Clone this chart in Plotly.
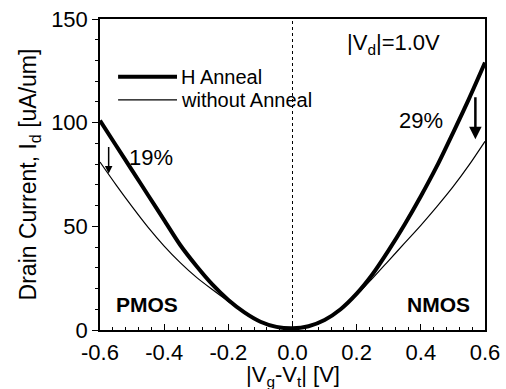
import plotly.graph_objects as go

# Gate overdrive |Vg - Vt| (negative side = PMOS, positive = NMOS)
vg = [-0.60, -0.55, -0.50, -0.45, -0.40, -0.35, -0.30, -0.25, -0.20, -0.15, -0.10, -0.05, 0.00,
      0.05, 0.10, 0.15, 0.20, 0.25, 0.30, 0.35, 0.40, 0.45, 0.50, 0.55, 0.60]
id_h_anneal = [101, 89, 77, 65, 53, 41, 31, 22, 14.5, 8.5, 4, 1.5, 0.8,
               1.8, 4.8, 10, 17.5, 27, 38.5, 51, 64.5, 79, 95, 111.5, 129]
id_no_anneal = [81, 70, 59.5, 49.5, 40.5, 32.5, 25.5, 19.5, 13.8, 8.3, 4, 1.5, 0.8,
                1.8, 4.8, 10, 17, 25, 33.5, 42, 50.5, 59.5, 69, 79.5, 91]

x_ticks = [-0.6, -0.4, -0.2, 0.0, 0.2, 0.4, 0.6]
x_ticklabels = ["-0.6", "-0.4", "-0.2", "0.0", "0.2", "0.4", "0.6"]
y_ticks = [0, 50, 100, 150]

FONT = "Liberation Sans, Arial, sans-serif"

fig = go.Figure()
fig.add_trace(go.Scatter(x=vg, y=id_h_anneal, mode="lines", name="H Anneal",
                         line=dict(color="black", width=4, shape="spline", smoothing=0.8)))
fig.add_trace(go.Scatter(x=vg, y=id_no_anneal, mode="lines", name="without Anneal",
                         line=dict(color="black", width=1.2, shape="spline", smoothing=0.8)))

# dotted vertical line at 0
fig.add_shape(type="line", xref="x", yref="paper", x0=0, x1=0, y0=0, y1=1,
              line=dict(color="black", width=1, dash="dot"))

# manual legend
leg = [("H Anneal", 4, 0.814), ("without Anneal", 1.2, 0.740)]
for name, w, yy in leg:
    fig.add_shape(type="line", xref="paper", yref="paper", x0=0.047, x1=0.2, y0=yy, y1=yy,
                  line=dict(color="black", width=w))
    fig.add_annotation(xref="paper", yref="paper", x=0.205, y=yy, text=name, showarrow=False,
                       xanchor="left", yanchor="middle", font=dict(size=20, color="black", family=FONT))

# arrows
fig.add_annotation(x=-0.573, y=75.5, ax=-0.573, ay=89, xref="x", yref="y", axref="x", ayref="y",
                   showarrow=True, arrowhead=2, arrowsize=1, arrowwidth=1.5, arrowcolor="black", text="")
fig.add_annotation(x=0.570, y=92, ax=0.570, ay=113, xref="x", yref="y", axref="x", ayref="y",
                   showarrow=True, arrowhead=2, arrowsize=1, arrowwidth=2.5, arrowcolor="black", text="")

texts = [
    ("19%", -0.44, 83, False),
    ("29%", 0.400, 101, False),
    ("PMOS", -0.455, 12.5, True),
    ("NMOS", 0.455, 12.5, True),
]
for t, xx, yy, bold in texts:
    fig.add_annotation(x=xx, y=yy, xref="x", yref="y", text=("<b>%s</b>" % t) if bold else t,
                       showarrow=False, xanchor="center", yanchor="middle",
                       font=dict(size=22 if not bold else 21, color="black", family=FONT))

fig.add_annotation(x=0.165, y=138, xref="x", yref="y", text="|V<sub>d</sub>|=1.0V", showarrow=False,
                   xanchor="left", yanchor="middle", font=dict(size=22, color="black", family=FONT))

# x-axis title placed as an annotation just below the tick labels
fig.add_annotation(x=0.0, y=-0.096, xref="x", yref="paper", text="|V<sub>g</sub>-V<sub>t</sub>| [V]",
                   showarrow=False, xanchor="center", yanchor="top",
                   font=dict(size=22, color="black", family=FONT))

fig.update_layout(
    width=506, height=389,
    margin=dict(l=100, r=21, t=19, b=59),
    paper_bgcolor="white", plot_bgcolor="white",
    showlegend=False,
    font=dict(family=FONT, color="black"),
)
fig.update_xaxes(range=[-0.6, 0.6], tickvals=x_ticks, ticktext=x_ticklabels,
                 ticks="inside", ticklen=6, tickwidth=1.2, tickcolor="black",
                 minor=dict(dtick=0.04, tick0=-0.6, ticks="inside", ticklen=3, tickcolor="black"),
                 showline=True, linecolor="black", linewidth=1.5, mirror=True,
                 showgrid=False, zeroline=False, ticklabelstandoff=2, automargin=False,
                 tickfont=dict(size=22, family=FONT, color="black"))
fig.update_yaxes(range=[0, 150], tickvals=y_ticks,
                 ticks="outside", ticklen=6, tickwidth=1.2, tickcolor="black",
                 minor=dict(dtick=10, ticks="outside", ticklen=3, tickcolor="black"),
                 showline=True, linecolor="black", linewidth=1.5, mirror=True,
                 showgrid=False, zeroline=False, automargin=False,
                 tickfont=dict(size=22, family=FONT, color="black"),
                 title=dict(text="Drain Current, I<sub>d</sub> [uA/um]", standoff=8,
                            font=dict(size=23, family=FONT, color="black")))

fig.write_html("out.html")
